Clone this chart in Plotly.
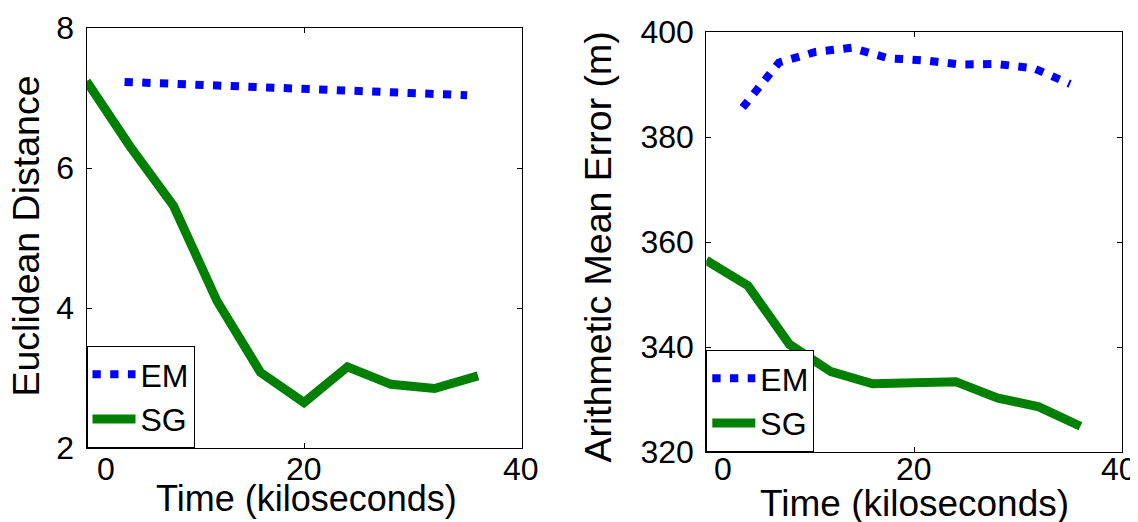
import plotly.graph_objects as go

# ---------------- data ----------------
time_sg = [0, 4, 8, 12, 16, 20, 24, 28, 32, 36]
time_em = [3.5, 7.0, 10.5, 14.0, 17.5, 21.0, 24.5, 28.0, 31.5, 35.0]

euclid_em = [7.23, 7.21, 7.19, 7.17, 7.15, 7.13, 7.11, 7.09, 7.07, 7.04]
euclid_sg = [7.24, 6.31, 5.46, 4.10, 3.08, 2.65, 3.16, 2.91, 2.85, 3.03]

ame_em = [385.6, 394.2, 396.2, 397.0, 395.0, 394.6, 393.8, 393.9, 393.1, 390.1]
ame_sg = [356.5, 351.7, 340.5, 335.3, 333.0, 333.1, 333.4, 330.3, 328.6, 324.9]

series_names = ["EM", "SG"]
x_tick_vals = [0, 20, 40]
x_tick_text = ["0", "20", "40"]
left_y_ticks = [2, 4, 6, 8]
right_y_ticks = [320, 340, 360, 380, 400]
x_title = "Time (kiloseconds)"
left_y_title = "Euclidean Distance"
right_y_title = "Arithmetic Mean Error (m)"

# ---------------- style ----------------
W, H = 1138, 522
FONT = "Liberation Sans, Arial, Helvetica, sans-serif"
EM_COLOR = "#0000ff"
SG_COLOR = "#008000"
EM_DASH = "8.3px,9.4px"


def px_x(p):
    return p / W


def px_y(p):
    return 1 - p / H


fig = go.Figure()

fig.add_trace(go.Scatter(x=time_em, y=euclid_em, mode="lines", name=series_names[0],
                         line=dict(color=EM_COLOR, width=8, dash=EM_DASH),
                         xaxis="x", yaxis="y", legend="legend"))
fig.add_trace(go.Scatter(x=time_sg, y=euclid_sg, mode="lines", name=series_names[1],
                         line=dict(color=SG_COLOR, width=9),
                         xaxis="x", yaxis="y", legend="legend"))
fig.add_trace(go.Scatter(x=time_em, y=ame_em, mode="lines", name=series_names[0],
                         line=dict(color=EM_COLOR, width=8, dash=EM_DASH),
                         xaxis="x2", yaxis="y2", legend="legend2"))
fig.add_trace(go.Scatter(x=time_sg, y=ame_sg, mode="lines", name=series_names[1],
                         line=dict(color=SG_COLOR, width=9),
                         xaxis="x2", yaxis="y2", legend="legend2"))

common_x = dict(range=[0, 40], tickvals=x_tick_vals, showticklabels=False,
                ticks="inside", ticklen=5, tickcolor="black", tickwidth=1,
                showline=True, linecolor="black", linewidth=1, mirror="ticks",
                showgrid=False, zeroline=False, automargin=False)
common_y = dict(ticks="inside", ticklen=5, tickcolor="black", tickwidth=1,
                showline=True, linecolor="black", linewidth=1, mirror="ticks",
                showgrid=False, zeroline=False, automargin=False,
                tickfont=dict(family=FONT, size=32, color="black"),
                ticklabelstandoff=5)

left_dom_x = [px_x(78.5), px_x(513.5)]
right_dom_x = [px_x(698.3), px_x(1114)]
left_dom_y = [px_y(440), px_y(20)]
right_dom_y = [px_y(444), px_y(24)]

legend_common = dict(xanchor="left", yanchor="bottom",
                     bgcolor="white", bordercolor="black", borderwidth=1,
                     font=dict(family=FONT, size=32, color="black"),
                     tracegroupgap=0, itemwidth=43)

fig.update_layout(
    width=W, height=H,
    margin=dict(l=0, r=0, t=0, b=0),
    paper_bgcolor="white", plot_bgcolor="white",
    font=dict(family=FONT, color="black"),
    xaxis=dict(domain=left_dom_x, anchor="y", **common_x),
    xaxis2=dict(domain=right_dom_x, anchor="y2", **common_x),
    yaxis=dict(domain=left_dom_y, anchor="x", range=[2, 8], tickvals=left_y_ticks, **common_y),
    yaxis2=dict(domain=right_dom_y, anchor="x2", range=[320, 400], tickvals=right_y_ticks, **common_y),
    legend=dict(x=left_dom_x[0], y=left_dom_y[0], **legend_common),
    legend2=dict(x=right_dom_x[0], y=right_dom_y[0], **legend_common),
    showlegend=True,
)

# x tick labels as text (first label sits a little right of the axis corner, as in the source)
left_shift = [19, 0, -1]
right_shift = [17, 0, -3]
for axis, shifts in (("x", left_shift), ("x2", right_shift)):
    for val, txt, sh in zip(x_tick_vals, x_tick_text, shifts):
        fig.add_annotation(x=val, xref=axis, y=px_y(461), yref="paper",
                           text=txt, showarrow=False, xanchor="center", yanchor="middle",
                           xshift=sh, borderpad=0,
                           font=dict(family=FONT, size=32, color="black"))

# axis titles
title_specs = [
    (x_title, 298.3, 490, 0, 36),
    (x_title, 906.7, 495, 0, 37),
    (left_y_title, 17.5, 228, -90, 37.5),
    (right_y_title, 589.5, 239, -90, 37.5),
]
for txt, cx, cy, ang, fs in title_specs:
    fig.add_annotation(x=px_x(cx), xref="paper", y=px_y(cy), yref="paper", text=txt,
                       showarrow=False, xanchor="center", yanchor="middle", textangle=ang,
                       borderpad=0, font=dict(family=FONT, size=fs, color="black"))

fig.write_html("out.html")
